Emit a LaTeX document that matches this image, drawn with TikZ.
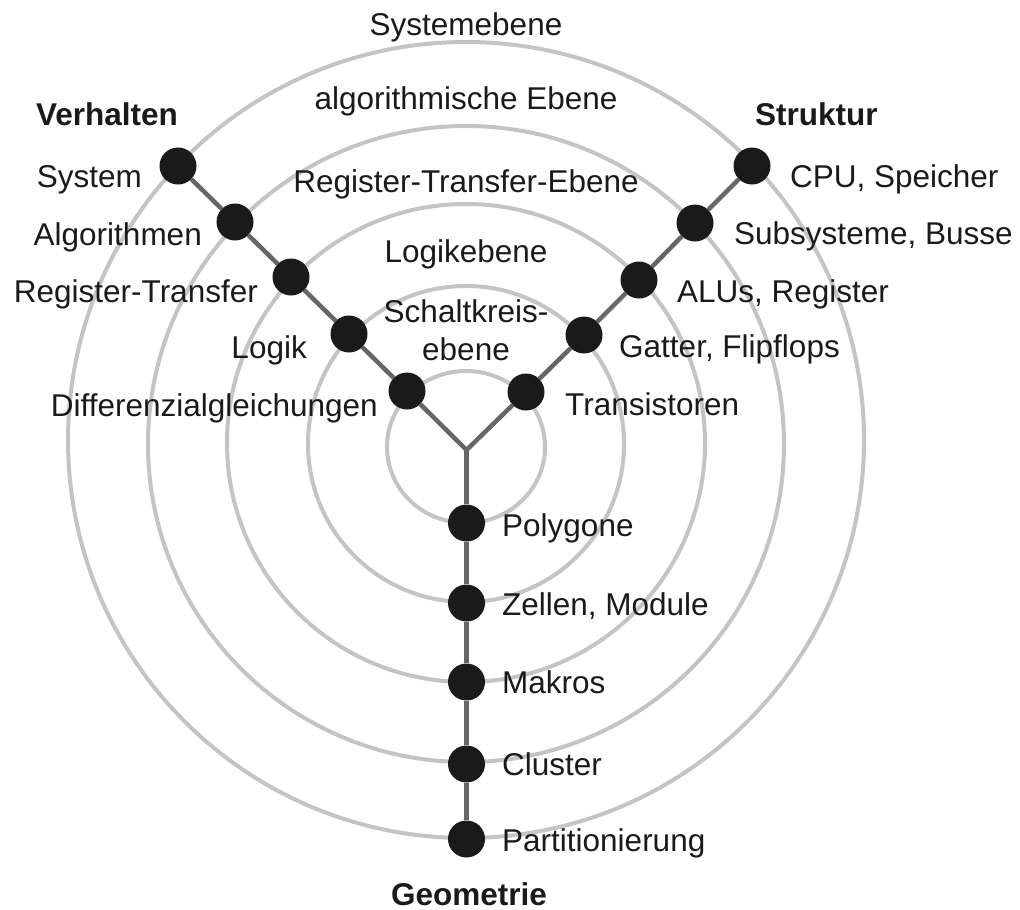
\documentclass[tikz,border=0pt]{standalone}
\usepackage{fontspec}
\setmainfont{Liberation Sans}
\definecolor{ringgray}{HTML}{C4C4C4}
\definecolor{armgray}{HTML}{666666}
\definecolor{dotblack}{HTML}{1A1A1A}
\definecolor{textblack}{HTML}{1A1A1A}
\begin{document}
\begin{tikzpicture}[x=1pt,y=-1pt,
  ring/.style={draw=ringgray, line width=4pt},
  arm/.style={draw=armgray, line width=4.5pt},
  dot/.style={circle, fill=dotblack, minimum size=37pt, inner sep=0pt},
  lbl/.style={font=\fontsize{31.5}{38}\selectfont, inner sep=0pt, text=textblack},
  bold/.style={font=\fontsize{31.5}{38}\selectfont\bfseries, inner sep=0pt, text=textblack}]
\useasboundingbox[fill=white] (0,0) rectangle (1020,910);

% rings
\draw[ring] (466,447) ellipse [x radius=79, y radius=76];
\draw[ring] (466,444) circle [radius=158];
\draw[ring] (466,443) circle [radius=239];
\draw[ring] (466,444) circle [radius=318];
\draw[ring] (466,440) circle [radius=398];

% junction and dots
\coordinate (J) at (466.5,450);
\node[dot] (L1) at (407,391) {};
\node[dot] (L2) at (349,334) {};
\node[dot] (L3) at (291,277) {};
\node[dot] (L4) at (235,222) {};
\node[dot] (L5) at (178,166) {};
\node[dot] (R1) at (526,392) {};
\node[dot] (R2) at (584,335) {};
\node[dot] (R3) at (639,280) {};
\node[dot] (R4) at (695,223) {};
\node[dot] (R5) at (752,166) {};
\node[dot] (B1) at (466.5,523) {};
\node[dot] (B2) at (466.5,603) {};
\node[dot] (B3) at (466.5,682) {};
\node[dot] (B4) at (466.5,764) {};
\node[dot] (B5) at (466.5,839) {};

% arms
\begin{scope}[on background layer/.try]
\end{scope}
\draw[arm] (J) -- (L1); \draw[arm] (L1) -- (L2); \draw[arm] (L2) -- (L3);
\draw[arm] (L3) -- (L4); \draw[arm] (L4) -- (L5);
\draw[arm] (J) -- (R1); \draw[arm] (R1) -- (R2); \draw[arm] (R2) -- (R3);
\draw[arm] (R3) -- (R4); \draw[arm] (R4) -- (R5);
\draw[arm] (J) -- (B1); \draw[arm] (B1) -- (B2); \draw[arm] (B2) -- (B3);
\draw[arm] (B3) -- (B4); \draw[arm] (B4) -- (B5);

% level names
\node[lbl, anchor=base] (t1) at (466,35) {Systemebene};
\node[lbl, anchor=base] (t2) at (466,109) {algorithmische Ebene};
\node[lbl, anchor=base] (t3) at (466,192) {Register-Transfer-Ebene};
\node[lbl, anchor=base] (t4) at (466,262) {Logikebene};
\node[lbl, anchor=base] (t5a) at (466,322) {Schaltkreis-};
\node[lbl, anchor=base] (t5b) at (466,360) {ebene};

% Verhalten
\node[bold, anchor=base] (hV) at (107,125) {Verhalten};
\node[lbl, anchor=base east] (lV5) at (142,187) {System};
\node[lbl, anchor=base east] (lV4) at (202,245) {Algorithmen};
\node[lbl, anchor=base east] (lV3) at (258,302) {Register-Transfer};
\node[lbl, anchor=base east] (lV2) at (307,358) {Logik};
\node[lbl, anchor=base east] (lV1) at (378,416) {Differenzialgleichungen};

% Struktur
\node[bold, anchor=base west] (hS) at (755,125) {Struktur};
\node[lbl, anchor=base west] (lS5) at (790,187) {CPU, Speicher};
\node[lbl, anchor=base west] (lS4) at (734,244) {Subsysteme, Busse};
\node[lbl, anchor=base west] (lS3) at (677,302) {ALUs, Register};
\node[lbl, anchor=base west] (lS2) at (619,357) {Gatter, Flipflops};
\node[lbl, anchor=base west] (lS1) at (565,415) {Transistoren};

% Geometrie
\node[lbl, anchor=base west] (lG1) at (502,536) {Polygone};
\node[lbl, anchor=base west] (lG2) at (502,615) {Zellen, Module};
\node[lbl, anchor=base west] (lG3) at (502,693) {Makros};
\node[lbl, anchor=base west] (lG4) at (502,775) {Cluster};
\node[lbl, anchor=base west] (lG5) at (502,851) {Partitionierung};
\node[bold, anchor=base] (hG) at (469,905) {Geometrie};
\end{tikzpicture}
\end{document}
